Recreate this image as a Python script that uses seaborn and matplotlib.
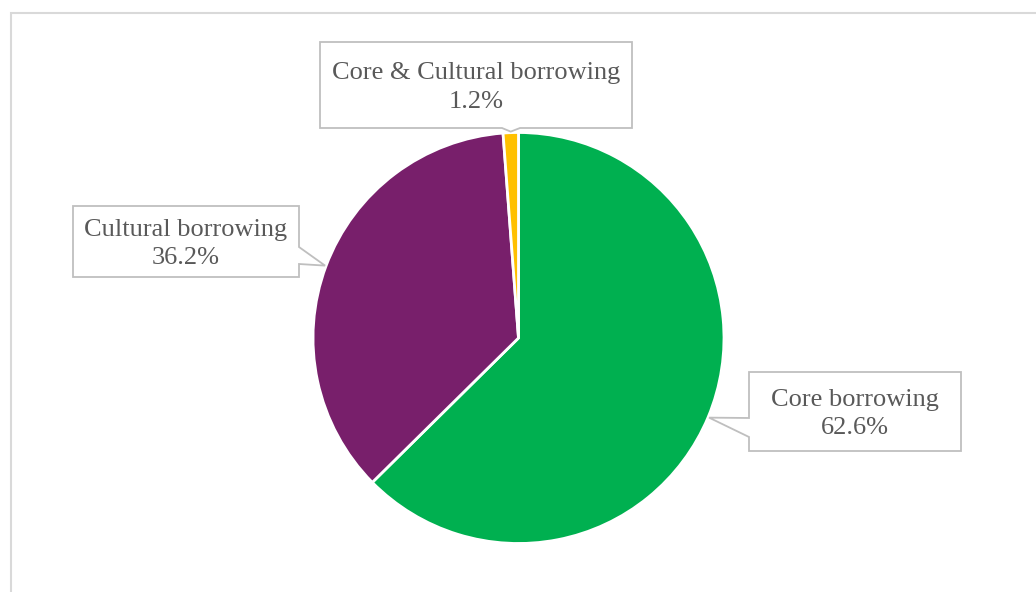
import numpy as np
import matplotlib
matplotlib.use("Agg")
import matplotlib.pyplot as plt
from matplotlib.patches import Polygon, Rectangle
import seaborn as sns

# Share of borrowing types
categories = ["Core borrowing", "Cultural borrowing", "Core & Cultural borrowing"]
shares = [62.6, 36.2, 1.2]
colors = ["#00B050", "#781F6B", "#FFC000"]

sns.set_theme(style="white")
plt.rcParams["font.family"] = ["Liberation Serif", "DejaVu Serif"]

W, H = 1036, 592
fig = plt.figure(figsize=(W / 100, H / 100), dpi=100)
ax = fig.add_axes([0, 0, 1, 1])

# pixel-style coordinates, y measured from the top of the canvas
def py(y):
    return H - y

cx, cy, radius = 518.5, py(338), 205.5
wedges, _ = ax.pie(
    shares,
    colors=colors,
    startangle=90,
    counterclock=False,
    center=(cx, cy),
    radius=radius,
    wedgeprops=dict(edgecolor="white", linewidth=2.0),
)
ax.set_xlim(0, W)
ax.set_ylim(0, H)
ax.set_aspect("equal")
ax.axis("off")

# outer chart-area border
ax.add_patch(Rectangle((10.5, -20), W + 20, py(12.5) + 20, fill=False,
                       edgecolor="#D9D9D9", linewidth=1.5, zorder=0))

# callout boxes: (left, top, right, bottom), side carrying the pointer, pointer base span
boxes = {
    "Core borrowing": ((749, 372, 961, 451), "left", (418, 437)),
    "Cultural borrowing": ((73, 206, 299, 277), "right", (247, 264)),
    "Core & Cultural borrowing": ((320, 42, 632, 128), "bottom", (502, 520)),
}

total = sum(shares)
angle = 90.0
for name, val, w in zip(categories, shares, wedges):
    span = 360.0 * val / total
    mid = np.deg2rad(angle - span / 2)
    angle -= span
    tx = cx + radius * 1.005 * np.cos(mid)
    ty = cy + radius * 1.005 * np.sin(mid)

    (x0, y0, x1, y1), side, (b0, b1) = boxes[name]
    if side == "left":
        pts = [(x0, y0), (x1, y0), (x1, y1), (x0, y1), (x0, b1), (tx, py(ty)), (x0, b0)]
    elif side == "right":
        pts = [(x0, y0), (x1, y0), (x1, b0), (tx, py(ty)), (x1, b1), (x1, y1), (x0, y1)]
    else:
        pts = [(x0, y0), (x1, y0), (x1, y1), (b1, y1), (tx, py(ty)), (b0, y1), (x0, y1)]
    ax.add_patch(Polygon([(x, py(y)) for x, y in pts], closed=True,
                         facecolor="white", edgecolor="#BFBFBF",
                         linewidth=1.3, zorder=3))
    ax.text((x0 + x1) / 2, py((y0 + y1) / 2 + 2.5), f"{name}\n{val:.1f}%",
            ha="center", va="center", fontsize=19, color="#595959",
            linespacing=1.38, zorder=4)

fig.savefig("out.png", dpi=100, facecolor="white")
